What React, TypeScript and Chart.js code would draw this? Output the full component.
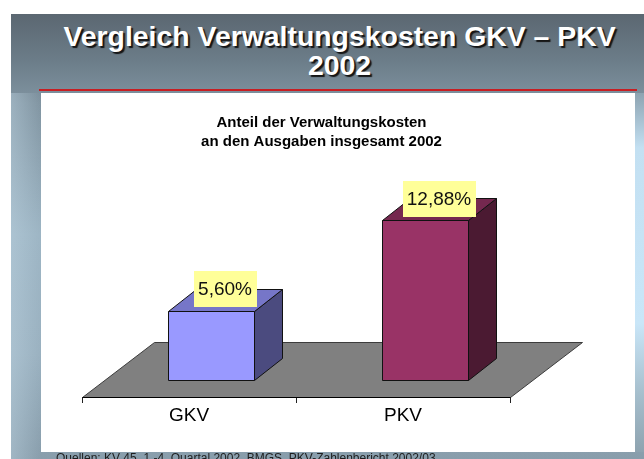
import React, { useEffect, useRef } from "react";
import { Chart, registerables } from "chart.js";

Chart.register(...registerables);

// ---- data ----
const categories: string[] = ["GKV", "PKV"];
const shares: number[] = [5.6, 12.88];
const valueLabels: string[] = ["5,60%", "12,88%"];
const chartTitle: string[] = ["Anteil der Verwaltungskosten", "an den Ausgaben insgesamt 2002"];
const slideTitle: string[] = ["Vergleich Verwaltungskosten GKV – PKV", "2002"];
const sourceNote = "Quellen: KV 45, 1.-4. Quartal 2002, BMGS, PKV-Zahlenbericht 2002/03";
const yMin = 0;
const yMax = 18;

// ---- styles ----
const frontColors = ["#9999ff", "#993366"];
const topColors = ["#7676c8", "#75284f"];
const sideColors = ["#4b4b7f", "#4b1a32"];
const FONT = '"Liberation Sans", Arial, Helvetica, sans-serif';

// 3D geometry (pixels)
const FLOOR_DX = 72;
const FLOOR_DY = -55;
const BAR_SHIFT_X = 22;
const BAR_SHIFT_Y = -17;
const BAR_DX = 28;
const BAR_DY = -22;

const bar3d = {
  id: "bar3d",
  beforeDatasetsDraw(chart: any) {
    const { ctx, chartArea, scales } = chart;
    const base = Math.round(scales.y.getPixelForValue(0)) + 0.5;
    const l = Math.round(chartArea.left) + 0.5;
    const r = Math.round(chartArea.right) + 0.5;
    ctx.save();
    ctx.beginPath();
    ctx.moveTo(l, base);
    ctx.lineTo(r, base);
    ctx.lineTo(r + FLOOR_DX, base + FLOOR_DY);
    ctx.lineTo(l + FLOOR_DX, base + FLOOR_DY);
    ctx.closePath();
    ctx.fillStyle = "#808080";
    ctx.fill();
    ctx.strokeStyle = "#3c3c3c";
    ctx.lineWidth = 1;
    ctx.stroke();
    ctx.beginPath();
    ctx.moveTo(l, base);
    ctx.lineTo(r, base);
    ctx.strokeStyle = "#000";
    ctx.stroke();
    ctx.restore();
  },
  afterDatasetsDraw(chart: any) {
    const { ctx } = chart;
    const meta = chart.getDatasetMeta(0);
    ctx.save();
    ctx.lineWidth = 1;
    ctx.strokeStyle = "#111";
    ctx.lineJoin = "miter";
    meta.data.forEach((bar: any, i: number) => {
      const p = bar.getProps(["x", "y", "base", "width"], true);
      const x0 = Math.round(p.x - p.width / 2 + BAR_SHIFT_X) + 0.5;
      const x1 = Math.round(p.x + p.width / 2 + BAR_SHIFT_X) + 0.5;
      const top = Math.round(p.y + BAR_SHIFT_Y) + 0.5;
      const bot = Math.round(p.base + BAR_SHIFT_Y) + 0.5;
      // side face
      ctx.beginPath();
      ctx.moveTo(x1, bot);
      ctx.lineTo(x1 + BAR_DX, bot + BAR_DY);
      ctx.lineTo(x1 + BAR_DX, top + BAR_DY);
      ctx.lineTo(x1, top);
      ctx.closePath();
      ctx.fillStyle = sideColors[i];
      ctx.fill();
      ctx.stroke();
      // top face
      ctx.beginPath();
      ctx.moveTo(x0, top);
      ctx.lineTo(x0 + BAR_DX, top + BAR_DY);
      ctx.lineTo(x1 + BAR_DX, top + BAR_DY);
      ctx.lineTo(x1, top);
      ctx.closePath();
      ctx.fillStyle = topColors[i];
      ctx.fill();
      ctx.stroke();
      // front face
      ctx.beginPath();
      ctx.rect(x0, top, x1 - x0, bot - top);
      ctx.fillStyle = frontColors[i];
      ctx.fill();
      ctx.stroke();
    });
    // value labels
    ctx.font = `19px ${FONT}`;
    ctx.textAlign = "center";
    ctx.textBaseline = "middle";
    meta.data.forEach((bar: any, i: number) => {
      const p = bar.getProps(["x", "y", "base", "width"], true);
      const cx = p.x + BAR_SHIFT_X + BAR_DX / 2;
      const cy = p.y + BAR_SHIFT_Y + BAR_DY + 0.5;
      const text = valueLabels[i];
      const tw = ctx.measureText(text).width;
      const bw = Math.round(tw + 9);
      const bh = 36;
      ctx.fillStyle = "#ffff99";
      ctx.fillRect(Math.round(cx - bw / 2), Math.round(cy - bh / 2), bw, bh);
      ctx.fillStyle = "#111";
      ctx.fillText(text, cx, cy + 1);
    });
    ctx.restore();
  },
};

function BarChart() {
  const ref = useRef<HTMLCanvasElement | null>(null);
  useEffect(() => {
    if (!ref.current) return;
    const chart = new Chart(ref.current, {
      type: "bar",
      data: {
        labels: categories,
        datasets: [
          {
            data: shares,
            backgroundColor: "rgba(0,0,0,0)",
            borderWidth: 0,
            categoryPercentage: 1,
            barPercentage: 0.4,
          } as any,
        ],
      },
      options: {
        responsive: false,
        animation: false,
        devicePixelRatio: 1,
        layout: { padding: { left: 0, right: 33, top: 0, bottom: 0 } },
        plugins: {
          legend: { display: false },
          tooltip: { enabled: false },
          title: {
            display: true,
            text: chartTitle,
            color: "#000",
            font: { family: FONT, size: 15, weight: "bold", lineHeight: 19 / 15 },
            padding: { top: 20, bottom: 23 },
          },
        },
        scales: {
          x: {
            offset: true,
            grid: {
              display: true,
              drawOnChartArea: false,
              drawTicks: true,
              tickLength: 6,
              color: "#222",
              offset: true,
            },
            border: { display: true, color: "#000" },
            ticks: { color: "#000", font: { family: FONT, size: 19 }, padding: 1 },
            afterFit: (s: any) => {
              s.height = 55;
            },
          },
          y: {
            min: yMin,
            max: yMax,
            display: true,
            grid: { display: false },
            border: { display: false },
            ticks: { display: false },
            afterFit: (s: any) => {
              s.width = 41;
            },
          },
          y2: {
            type: "linear",
            position: "right",
            min: yMin,
            max: yMax,
            display: true,
            grid: { display: false },
            border: { display: false },
            ticks: { display: false },
            afterFit: (s: any) => {
              s.width = 92;
            },
          },
        },
      } as any,
      plugins: [bar3d],
    });
    return () => chart.destroy();
  }, []);
  return <canvas ref={ref} width={594} height={359} style={{ display: "block", width: 594, height: 359 }} />;
}

export default function App() {
  return (
    <div
      style={{
        position: "fixed",
        left: 0,
        top: 0,
        width: 644,
        height: 459,
        overflow: "hidden",
        background: "#ffffff",
        fontFamily: FONT,
      }}
    >
      {/* slide background */}
      <div
        style={{
          position: "absolute",
          left: 11,
          top: 14,
          width: 633,
          height: 445,
          background:
            "linear-gradient(to bottom, #5b6771 0px, #6b7c88 45px, #8195a2 90px, #9db5c4 220px, #9ab1c0 340px, #889dab 445px)",
        }}
      />
      {/* right light-blue glow */}
      <div
        style={{
          position: "absolute",
          left: 635,
          top: 93,
          width: 9,
          height: 359,
          background:
            "linear-gradient(to bottom, #8da3b1 0px, #c3e0f2 55px, #c9e6f8 230px, #a6bfcd 300px, #8ea3b0 359px)",
        }}
      />
      {/* left lighter strip */}
      <div
        style={{
          position: "absolute",
          left: 11,
          top: 93,
          width: 30,
          height: 366,
          background:
            "linear-gradient(to right, rgba(190,212,226,0.45) 0px, rgba(190,212,226,0) 30px)",
        }}
      />
      {/* slide title */}
      <div
        style={{
          position: "absolute",
          left: 39,
          top: 22.4,
          width: 601,
          textAlign: "center",
          color: "#ffffff",
          fontWeight: "bold",
          fontSize: "28.4px",
          lineHeight: "28.5px",
          textShadow: "2px 2px 1px #151515",
          whiteSpace: "nowrap",
        }}
      >
        <div>{slideTitle[0]}</div>
        <div>{slideTitle[1]}</div>
      </div>
      {/* red rule */}
      <div style={{ position: "absolute", left: 39, top: 89, width: 598, height: 2, background: "#c81e22" }} />
      {/* white panel with chart */}
      <div style={{ position: "absolute", left: 41, top: 93, width: 594, height: 359, background: "#ffffff" }}>
        <BarChart />
      </div>
      {/* source note */}
      <div
        style={{
          position: "absolute",
          left: 56,
          top: 452,
          fontSize: "12px",
          lineHeight: "12px",
          color: "#1e1e1e",
          whiteSpace: "nowrap",
        }}
      >
        {sourceNote}
      </div>
    </div>
  );
}
